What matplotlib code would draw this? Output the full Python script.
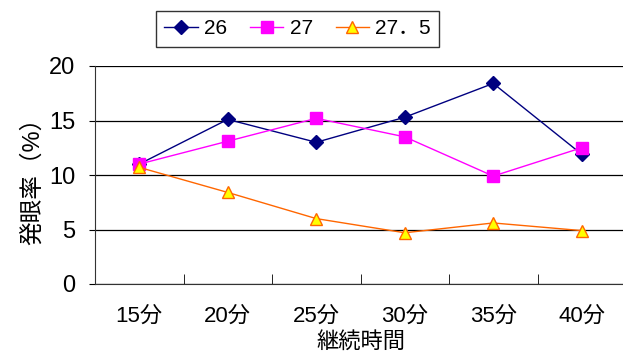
import numpy as np
import matplotlib.pyplot as plt

plt.rcParams['font.family'] = ['Liberation Sans', 'Noto Sans CJK JP']

cats = ['15分', '20分', '25分', '30分', '35分', '40分']
s26 = [11.0, 15.1, 13.0, 15.3, 18.4, 11.9]
s27 = [11.0, 13.1, 15.2, 13.5, 9.9, 12.5]
s275 = [10.7, 8.4, 6.0, 4.7, 5.6, 4.9]
names = ['26', '27', '27．5']

fig = plt.figure(figsize=(6.23, 3.51), dpi=100)
ax = fig.add_axes([95/623, (351-284)/351, 531/623, (284-66)/351])

x = np.arange(len(cats))
ax.plot(x, s26, '-', color='#000080', lw=1, marker='D', ms=7,
        mfc='#000080', mec='#000080', label=names[0])
ax.plot(x, s27, '-', color='#FF00FF', lw=1, marker='s', ms=8,
        mfc='#FF00FF', mec='#FF00FF', label=names[1])
ax.plot(x, s275, '-', color='#FF6600', lw=1, marker='^', ms=9,
        mfc='#FFFF00', mec='#FF6600', label=names[2])

ax.set_xlim(-0.5, len(cats) - 0.5)
ax.set_ylim(0, 20)
ax.set_yticks([0, 5, 10, 15, 20])
ax.yaxis.grid(True, color='black', lw=0.9)
ax.set_axisbelow(True)

ax.set_xticks(x)
ax.set_xticklabels(cats, fontsize=16)
ax.set_xticks(np.arange(0.5, len(cats) - 0.5), minor=True)
ax.tick_params(axis='x', which='major', length=0, pad=16)
ax.tick_params(axis='x', which='minor', direction='in', length=7, color='black')
ax.tick_params(axis='y', labelsize=17, length=4, color='black', pad=10)

for s in ['top', 'right']:
    ax.spines[s].set_visible(False)
ax.spines['left'].set_color('#333333')
ax.spines['bottom'].set_color('#333333')

ax.set_xlabel('継続時間', fontsize=16, labelpad=3)
ax.set_ylabel('発眼率（%）', fontsize=17, labelpad=4)

leg = fig.legend(loc='upper left', bbox_to_anchor=(156/623, 1 - 11/351), ncol=3,
                 fontsize=15, frameon=True, fancybox=False, edgecolor='black',
                 borderpad=0.4, handlelength=1.6, columnspacing=1.1,
                 handletextpad=0.3, borderaxespad=0)
leg.get_frame().set_linewidth(1)

plt.savefig('out.png', dpi=100)
